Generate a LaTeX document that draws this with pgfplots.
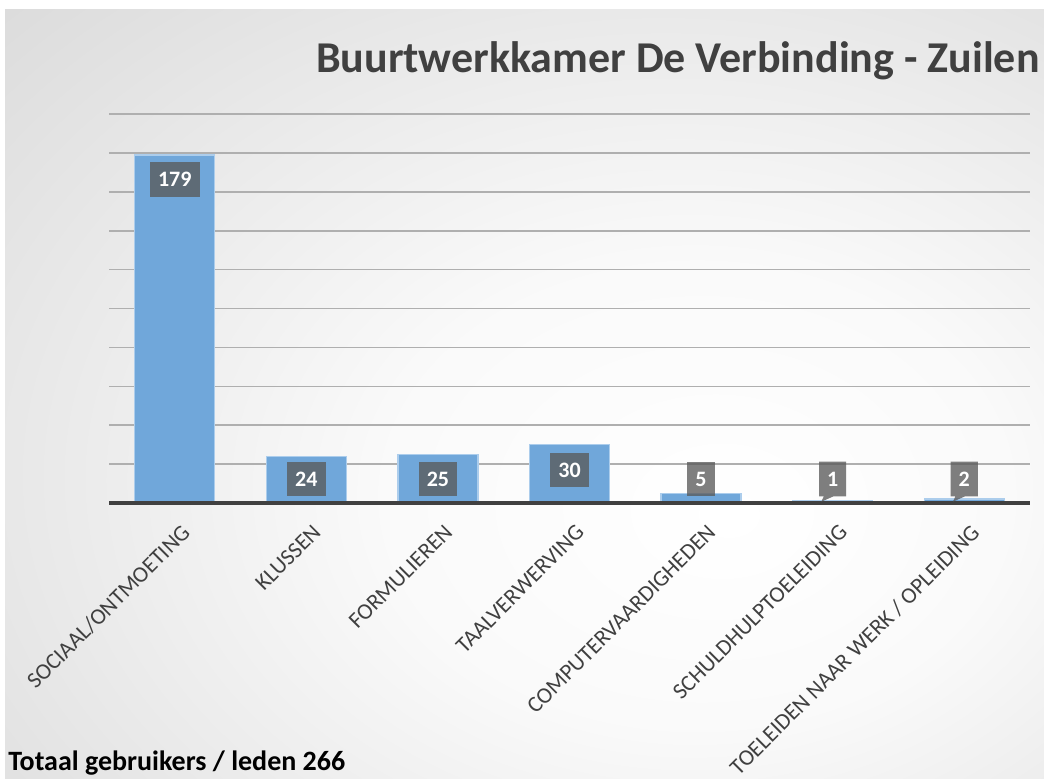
\documentclass[border=0pt]{standalone}
\usepackage{fontspec}
\setmainfont{Carlito}
\usepackage{pgfplots}
\pgfplotsset{compat=1.18}
\usetikzlibrary{shapes.callouts}

\definecolor{barblue}{RGB}{112,167,218}
\definecolor{baredge}{RGB}{172,205,236}
\definecolor{gridgray}{RGB}{175,175,175}
\definecolor{darktxt}{RGB}{64,64,64}
\pgfdeclareradialshading{bgshade}{\pgfpoint{10bp}{-8bp}}{color(0bp)=(white); color(15bp)=(white!98!black); color(45bp)=(white!85!black); color(70bp)=(white!80!black); color(90bp)=(white!77!black)}

\tikzset{
  lbl/.style={fill=black!65, fill opacity=0.77, text opacity=1, text=white,
    font=\bfseries\fontsize{16.5}{18}\selectfont, inner xsep=6pt, inner ysep=0pt,
    minimum height=26pt, anchor=center},
}

\begin{document}
\begin{tikzpicture}
\useasboundingbox (0,0) rectangle (783pt,583.5pt);
\fill[white] (0,0) rectangle (783pt,583.5pt);
\shade[shading=bgshade] (3.75pt,0) rectangle (783pt,576pt);

\begin{axis}[
  at={(81.75pt,206.25pt)}, anchor=south west,
  scale only axis, width=690.75pt, height=291.75pt,
  xmin=-0.5, xmax=6.5, ymin=0, ymax=200,
  axis line style={draw=none},
  ytick={20,40,...,200}, yticklabels={},
  ymajorgrids, grid style={gridgray, line width=1.2pt},
  major tick length=0pt,
  xtick={0,...,6},
  xticklabels={SOCIAAL/ONTMOETING, KLUSSEN, FORMULIEREN, TAALVERWERVING,
    COMPUTERVAARDIGHEDEN, SCHULDHULPTOELEIDING, TOELEIDEN NAAR WERK / OPLEIDING},
  xticklabel style={xshift=4pt, yshift=-15pt, rotate=45, anchor=north east,
    inner sep=0pt, text=darktxt, font=\fontsize{17}{19}\selectfont},
  clip=false,
]
% bars
\addplot[ybar, bar width=60pt, fill=barblue, draw=baredge, line width=1pt]
  coordinates {(0,179) (1,24) (2,25) (3,30) (4,5) (5,1) (6,2)};
\draw[darktxt, line width=3pt] (rel axis cs:0,0) -- (rel axis cs:1,0);
% data labels
\addplot[draw=none, mark=none, point meta=explicit symbolic, nodes near coords,
  every node near coord/.append style={lbl}]
  coordinates {(0,166.3) [179] (1,12.3) [24] (2,12.3) [25] (3,17) [30] (4,12.3) [5]};
\addplot[draw=none, mark=none, point meta=explicit symbolic, nodes near coords,
  every node near coord/.append style={lbl, rectangle callout, callout relative pointer={(-2pt,-4pt)}}]
  coordinates {(5,12.3) [1] (6,12.3) [2]};
\end{axis}

\node[anchor=base east, inner sep=0pt, text=darktxt, font=\bfseries\fontsize{33}{36}\selectfont]
  at (780pt,529pt) {Buurtwerkkamer De Verbinding - Zuilen};
\node[anchor=base west, inner sep=0pt, font=\bfseries\fontsize{21}{24}\selectfont]
  at (6pt,5.5pt) {Totaal gebruikers / leden 266};
\end{tikzpicture}
\end{document}
